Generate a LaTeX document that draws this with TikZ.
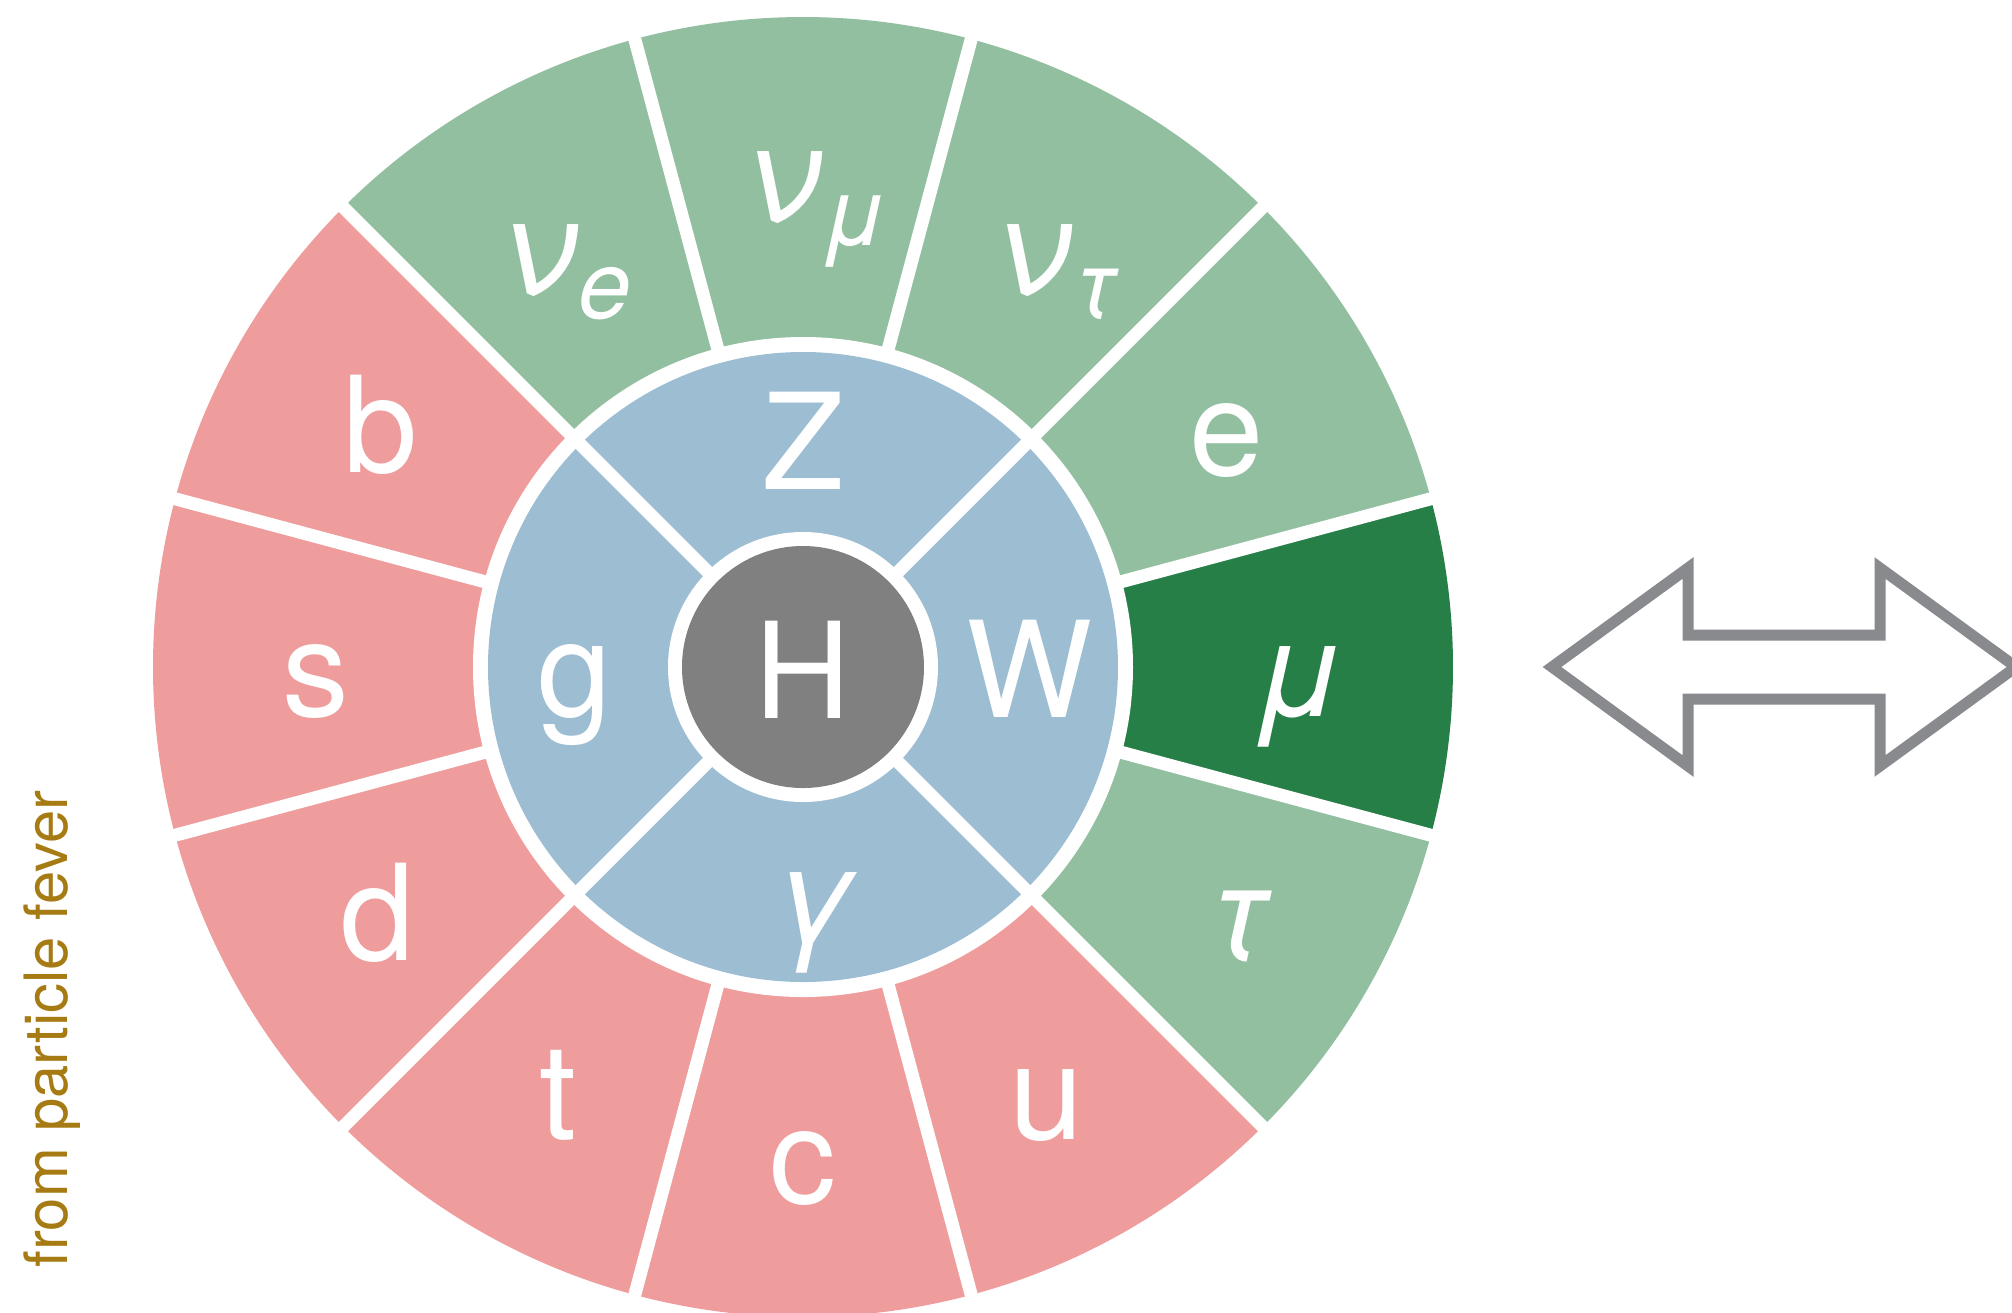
\documentclass[tikz,border=0pt]{standalone}
\usepackage{fontspec}
\setmainfont{TeX Gyre Heros}
\newfontfamily\grk[FakeSlant=0.22]{TeX Gyre Heros}
\usepackage{tikz}
\usetikzlibrary{arrows}
\definecolor{lgreen}{HTML}{93BFA1}
\definecolor{dgreen}{HTML}{267F46}
\definecolor{lpink}{HTML}{EF9C9C}
\definecolor{lblue}{HTML}{9CBDD2}
\definecolor{hgray}{HTML}{808080}
\definecolor{agray}{HTML}{888A8E}
\definecolor{credit}{HTML}{A67B13}

\begin{document}
\begin{tikzpicture}[line join=miter]
  \tikzstyle{particle}=[text=white, inner sep=0pt, anchor=base,
    font=\fontsize{38}{38}\selectfont]
  \tikzstyle{greek}=[particle, font=\fontsize{38}{38}\selectfont\grk]
  \tikzstyle{sep}=[white, line width=0.13cm]

  \fill[white] (-8.03,-6.45) rectangle (12.09,6.67);
  \clip (-8.03,-6.45) rectangle (12.09,6.67);

  % outer ring: leptons and quarks
  \fill[lgreen] (0,0) -- (75:6.5) arc (75:105:6.5) -- cycle;
  \fill[lgreen] (0,0) -- (45:6.5) arc (45:75:6.5) -- cycle;
  \fill[lgreen] (0,0) -- (15:6.5) arc (15:45:6.5) -- cycle;
  \fill[dgreen] (0,0) -- (-15:6.5) arc (-15:15:6.5) -- cycle;
  \fill[lgreen] (0,0) -- (-45:6.5) arc (-45:-15:6.5) -- cycle;
  \fill[lpink] (0,0) -- (-75:6.5) arc (-75:-45:6.5) -- cycle;
  \fill[lpink] (0,0) -- (-105:6.5) arc (-105:-75:6.5) -- cycle;
  \fill[lpink] (0,0) -- (-135:6.5) arc (-135:-105:6.5) -- cycle;
  \fill[lpink] (0,0) -- (-165:6.5) arc (-165:-135:6.5) -- cycle;
  \fill[lpink] (0,0) -- (165:6.5) arc (165:195:6.5) -- cycle;
  \fill[lpink] (0,0) -- (135:6.5) arc (135:165:6.5) -- cycle;
  \fill[lgreen] (0,0) -- (105:6.5) arc (105:135:6.5) -- cycle;

  % bosons and the Higgs
  \fill[white] (0,0) circle (3.30);
  \fill[lblue] (0,0) circle (3.15);
  \fill[white] (0,0) circle (1.35);
  \fill[hgray] (0,0) circle (1.21);

  \draw[sep] (15:3.2) -- (15:6.6);
  \draw[sep] (75:3.2) -- (75:6.6);
  \draw[sep] (105:3.2) -- (105:6.6);
  \draw[sep] (165:3.2) -- (165:6.6);
  \draw[sep] (195:3.2) -- (195:6.6);
  \draw[sep] (255:3.2) -- (255:6.6);
  \draw[sep] (285:3.2) -- (285:6.6);
  \draw[sep] (345:3.2) -- (345:6.6);
  \draw[sep] (45:1.3) -- (45:6.6);
  \draw[sep] (135:1.3) -- (135:6.6);
  \draw[sep] (225:1.3) -- (225:6.6);
  \draw[sep] (315:1.3) -- (315:6.6);

  \node[particle] (H) at (0,-0.51) {H};
  \node[particle] (Z) at (0,1.78) {Z};
  \node[particle] (W) at (2.27,-0.50) {W};
  \node[particle] (g) at (-2.28,-0.49) {g};
  \node[greek] (gamma) at (0.05,-2.75) {γ};

  \node[greek] (nu_mu) at (0.07,4.46)
    {ν\kern0.04cm\raisebox{-0.24cm}{\fontsize{27}{27}\selectfont μ}};
  \node[greek] (nu_tau) at (2.48,3.73)
    {ν\kern0.04cm\raisebox{-0.24cm}{\fontsize{27}{27}\selectfont τ}};
  \node[greek] (nu_e) at (-2.43,3.73)
    {ν\kern0.04cm\raisebox{-0.24cm}{\fontsize{27}{27}\selectfont e}};
  \node[particle] (e) at (4.24,1.92) {e};
  \node[greek] (mu) at (4.90,-0.49) {μ};
  \node[greek] (tau) at (4.30,-2.93) {τ};
  \node[particle] (u) at (2.44,-4.72) {u};
  \node[particle] (c) at (0,-5.36) {c};
  \node[particle] (t) at (-2.45,-4.72) {t};
  \node[particle] (d) at (-4.25,-2.93) {d};
  \node[particle] (s) at (-4.87,-0.49) {s};
  \node[particle] (b) at (-4.22,1.95) {b};

  % double arrow on the right
  \draw[agray, fill=white, line width=0.11cm]
    (7.49,0) -- (8.85,0.99) -- (8.85,0.32) -- (10.77,0.32) -- (10.77,0.99)
    -- (12.13,0) -- (10.77,-0.99) -- (10.77,-0.32) -- (8.85,-0.32)
    -- (8.85,-0.99) -- cycle;

  \node[rotate=90, anchor=base, text=credit, inner sep=0pt,
    font=\fontsize{17}{17}\selectfont] (credit) at (-7.35,-3.62)
    {from particle fever};
\end{tikzpicture}
\end{document}
